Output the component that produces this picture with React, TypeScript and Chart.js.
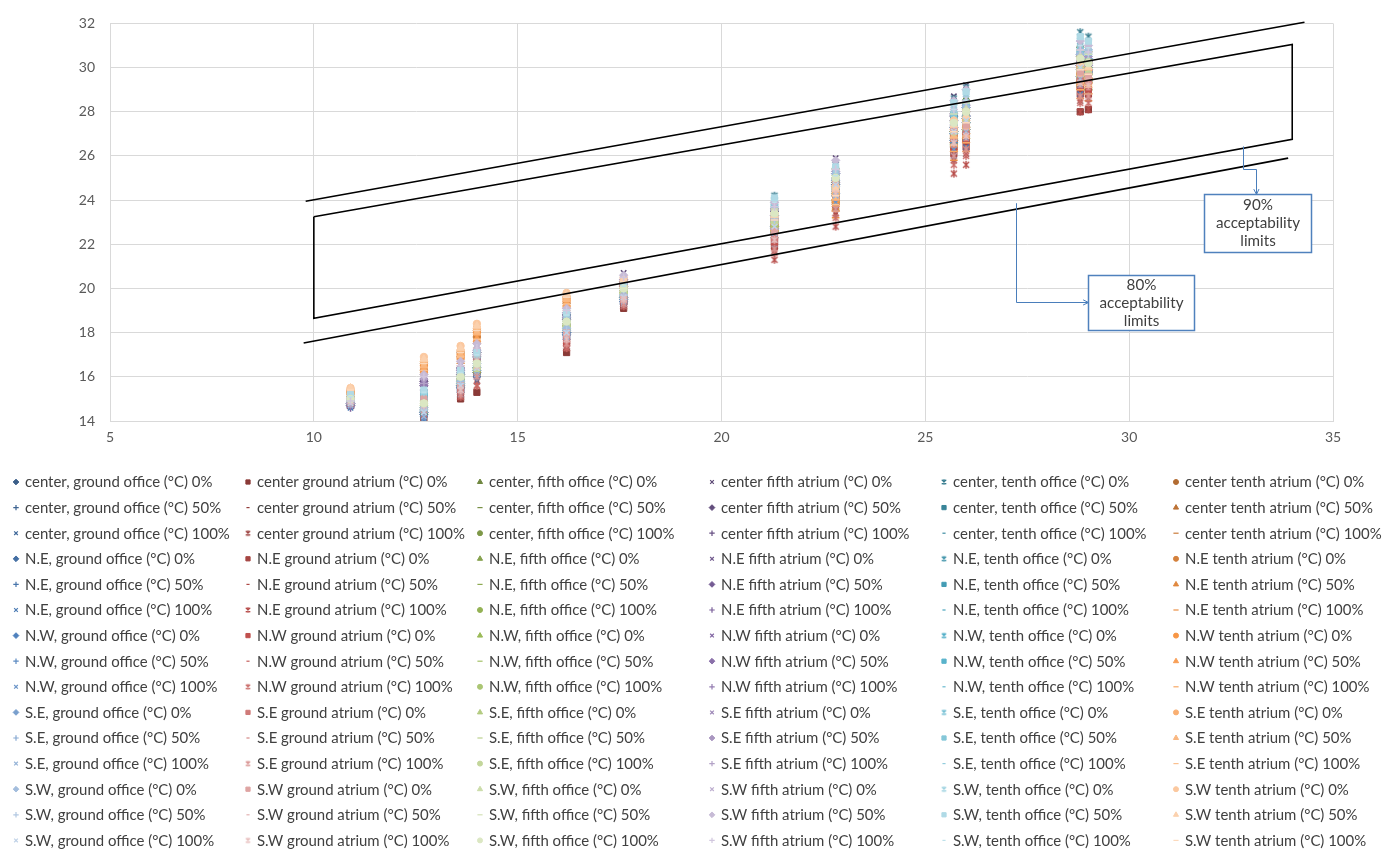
import React, { useEffect, useRef } from 'react';
import { Chart, registerables } from 'chart.js';
import { drawPoint } from 'chart.js/helpers';

Chart.register(...registerables);

// ---------------- data ----------------
const outdoorMeanTemp = [10.9, 12.7, 13.6, 14.0, 16.2, 17.6, 21.3, 22.8, 25.7, 26.0, 28.8, 29.0];
const orientations = ['center', 'N.E', 'N.W', 'S.E', 'S.W'];
const shadingLevels = ['0%', '50%', '100%'];
const spaceNames = ['ground office', 'ground atrium', 'fifth office', 'fifth atrium', 'tenth office', 'tenth atrium'];

// rows: center 0/50/100, N.E 0/50/100, N.W 0/50/100, S.E 0/50/100, S.W 0/50/100
const groundOffice = [
  [14.8, 14.4, 15.6, 16.4, 18.0, 19.6, 22.8, 24.7, 27.1, 27.7, 30.1, 30.2],
  [14.8, 14.3, 15.5, 16.2, 17.9, 19.5, 22.6, 24.4, 26.8, 27.3, 29.7, 29.9],
  [14.7, 14.2, 15.4, 16.0, 17.8, 19.4, 22.4, 24.1, 26.5, 26.9, 29.3, 29.5],
  [14.7, 14.3, 15.5, 16.2, 17.9, 19.4, 22.5, 24.3, 26.7, 27.2, 29.6, 29.8],
  [14.7, 14.2, 15.3, 16.0, 17.7, 19.3, 22.3, 24.0, 26.4, 26.9, 29.2, 29.4],
  [14.6, 14.0, 15.2, 15.8, 17.6, 19.2, 22.0, 23.6, 26.0, 26.4, 28.8, 28.9],
  [14.8, 14.4, 15.6, 16.3, 18.0, 19.5, 22.7, 24.6, 27.0, 27.5, 29.9, 30.0],
  [14.7, 14.2, 15.4, 16.1, 17.8, 19.4, 22.5, 24.2, 26.6, 27.1, 29.5, 29.7],
  [14.7, 14.1, 15.3, 16.0, 17.7, 19.3, 22.2, 23.9, 26.3, 26.8, 29.2, 29.3],
  [14.8, 14.5, 15.7, 16.4, 18.1, 19.6, 23.0, 24.9, 27.3, 27.8, 30.2, 30.4],
  [14.8, 14.4, 15.6, 16.3, 17.9, 19.5, 22.7, 24.5, 27.0, 27.5, 29.9, 30.1],
  [14.7, 14.2, 15.4, 16.1, 17.8, 19.4, 22.5, 24.2, 26.6, 27.1, 29.5, 29.7],
  [14.9, 14.6, 15.8, 16.6, 18.2, 19.7, 23.2, 25.2, 27.6, 28.2, 30.6, 30.8],
  [14.9, 14.5, 15.7, 16.5, 18.1, 19.7, 23.1, 25.0, 27.4, 28.0, 30.4, 30.6],
  [14.8, 14.4, 15.6, 16.4, 18.0, 19.6, 22.8, 24.7, 27.1, 27.6, 30.0, 30.2],
];

const groundAtrium = [
  [14.7, 14.1, 15.0, 15.3, 17.1, 19.1, 22.1, 24.1, 26.4, 26.7, 28.0, 28.1],
  [14.9, 14.6, 15.3, 16.2, 17.6, 19.4, 22.0, 23.9, 26.2, 26.5, 28.9, 28.9],
  [14.8, 14.4, 15.2, 15.8, 17.4, 19.3, 21.7, 23.4, 25.8, 26.1, 28.5, 28.6],
  [14.8, 14.5, 15.3, 16.1, 17.5, 19.4, 21.9, 23.8, 26.1, 26.4, 28.8, 28.8],
  [14.8, 14.3, 15.2, 15.8, 17.4, 19.2, 21.7, 23.4, 25.8, 26.2, 28.5, 28.5],
  [14.8, 14.3, 15.1, 15.6, 17.3, 19.2, 21.3, 22.8, 25.2, 25.6, 28.0, 28.1],
  [14.9, 14.6, 15.4, 16.3, 17.6, 19.4, 22.1, 24.1, 26.4, 26.7, 29.1, 29.0],
  [14.8, 14.5, 15.2, 16.0, 17.5, 19.3, 21.8, 23.6, 26.0, 26.3, 28.7, 28.7],
  [14.8, 14.3, 15.1, 15.6, 17.3, 19.2, 21.6, 23.2, 25.6, 26.0, 28.4, 28.4],
  [14.9, 14.8, 15.5, 16.7, 17.8, 19.5, 22.3, 24.5, 26.8, 27.0, 29.4, 29.3],
  [14.9, 14.6, 15.4, 16.4, 17.7, 19.4, 22.1, 24.0, 26.4, 26.7, 29.1, 29.0],
  [14.8, 14.5, 15.2, 16.0, 17.5, 19.3, 21.8, 23.6, 26.0, 26.3, 28.7, 28.7],
  [15.0, 15.0, 15.6, 17.0, 18.0, 19.6, 22.6, 24.9, 27.2, 27.4, 29.8, 29.6],
  [15.0, 14.9, 15.5, 16.8, 17.9, 19.6, 22.5, 24.7, 27.0, 27.2, 29.6, 29.5],
  [14.9, 14.7, 15.4, 16.5, 17.7, 19.5, 22.2, 24.3, 26.6, 26.9, 29.3, 29.2],
];

const fifthOffice = [
  [15.1, 15.0, 16.2, 16.8, 18.7, 20.1, 23.7, 25.5, 28.0, 28.6, 31.0, 30.8],
  [15.0, 14.7, 15.9, 16.5, 18.4, 19.9, 23.2, 24.8, 27.3, 27.7, 30.1, 29.9],
  [14.9, 14.6, 15.8, 16.4, 18.3, 19.8, 22.9, 24.5, 27.0, 27.3, 29.7, 29.5],
  [14.9, 14.7, 15.9, 16.5, 18.4, 19.8, 23.1, 24.7, 27.2, 27.6, 30.0, 29.8],
  [14.9, 14.6, 15.7, 16.4, 18.3, 19.7, 22.9, 24.4, 26.9, 27.3, 29.7, 29.5],
  [14.8, 14.4, 15.6, 16.2, 18.1, 19.6, 22.6, 24.0, 26.5, 26.8, 29.2, 29.0],
  [15.0, 14.8, 16.0, 16.6, 18.5, 19.9, 23.3, 24.9, 27.4, 27.9, 30.3, 30.1],
  [14.9, 14.6, 15.8, 16.4, 18.3, 19.8, 23.0, 24.6, 27.1, 27.5, 29.9, 29.7],
  [14.9, 14.5, 15.7, 16.3, 18.2, 19.7, 22.8, 24.3, 26.8, 27.2, 29.6, 29.4],
  [15.0, 14.9, 16.1, 16.7, 18.6, 20.0, 23.5, 25.2, 27.7, 28.2, 30.6, 30.4],
  [15.0, 14.8, 16.0, 16.6, 18.5, 19.9, 23.3, 24.9, 27.4, 27.8, 30.2, 30.0],
  [14.9, 14.6, 15.8, 16.4, 18.3, 19.8, 23.0, 24.6, 27.1, 27.5, 29.9, 29.7],
  [15.0, 14.8, 16.0, 16.6, 18.5, 20.0, 23.4, 25.1, 27.6, 28.1, 30.5, 30.3],
  [15.1, 14.9, 16.1, 16.7, 18.6, 20.1, 23.6, 25.4, 27.9, 28.4, 30.8, 30.6],
  [15.0, 14.8, 16.0, 16.6, 18.5, 20.0, 23.4, 25.0, 27.5, 28.0, 30.4, 30.2],
];

const fifthAtrium = [
  [15.0, 16.2, 16.8, 17.6, 19.2, 20.7, 24.0, 25.9, 28.7, 29.2, 31.4, 31.2],
  [14.8, 15.8, 16.4, 17.1, 18.8, 20.3, 23.5, 25.2, 27.8, 28.2, 30.5, 30.3],
  [14.7, 15.6, 16.2, 16.9, 18.6, 20.1, 23.2, 24.9, 27.4, 27.8, 30.1, 29.9],
  [14.8, 15.7, 16.3, 17.1, 18.8, 20.2, 23.4, 25.1, 27.7, 28.1, 30.4, 30.3],
  [14.7, 15.6, 16.1, 16.9, 18.6, 20.1, 23.2, 24.8, 27.3, 27.8, 30.1, 29.9],
  [14.6, 15.4, 15.9, 16.6, 18.4, 19.9, 22.9, 24.4, 26.8, 27.2, 29.6, 29.4],
  [14.8, 15.9, 16.4, 17.2, 18.9, 20.4, 23.6, 25.3, 27.9, 28.4, 30.7, 30.5],
  [14.8, 15.7, 16.3, 17.0, 18.7, 20.2, 23.3, 25.0, 27.6, 28.0, 30.3, 30.1],
  [14.7, 15.6, 16.1, 16.8, 18.6, 20.1, 23.1, 24.7, 27.2, 27.6, 30.0, 29.8],
  [14.9, 16.0, 16.6, 17.4, 19.0, 20.5, 23.8, 25.6, 28.3, 28.8, 31.0, 30.8],
  [14.8, 15.9, 16.4, 17.2, 18.9, 20.4, 23.6, 25.3, 27.9, 28.3, 30.6, 30.5],
  [14.8, 15.7, 16.3, 17.0, 18.7, 20.2, 23.3, 25.0, 27.6, 28.0, 30.3, 30.1],
  [14.9, 16.0, 16.5, 17.3, 19.0, 20.5, 23.7, 25.5, 28.1, 28.6, 30.9, 30.7],
  [15.0, 16.1, 16.7, 17.5, 19.1, 20.6, 23.9, 25.8, 28.5, 29.0, 31.2, 31.0],
  [14.9, 16.0, 16.5, 17.3, 19.0, 20.5, 23.7, 25.4, 28.1, 28.5, 30.8, 30.7],
];

const tenthOffice = [
  [15.2, 15.5, 16.3, 17.2, 19.0, 20.3, 24.2, 25.6, 28.6, 29.1, 31.6, 31.4],
  [15.1, 15.2, 16.1, 16.9, 18.7, 20.0, 23.8, 24.9, 27.8, 28.3, 30.7, 30.6],
  [15.0, 15.1, 16.0, 16.8, 18.6, 19.9, 23.6, 24.6, 27.5, 27.9, 30.3, 30.2],
  [15.0, 15.2, 16.1, 16.9, 18.7, 20.0, 23.7, 24.9, 27.7, 28.2, 30.6, 30.5],
  [15.0, 15.1, 15.9, 16.8, 18.5, 19.9, 23.6, 24.6, 27.4, 27.9, 30.3, 30.1],
  [14.9, 14.9, 15.8, 16.6, 18.4, 19.7, 23.3, 24.2, 27.0, 27.4, 29.8, 29.7],
  [15.1, 15.3, 16.1, 17.0, 18.8, 20.1, 23.8, 25.0, 28.0, 28.4, 30.9, 30.7],
  [15.0, 15.1, 16.0, 16.8, 18.6, 19.9, 23.7, 24.8, 27.6, 28.1, 30.5, 30.4],
  [15.0, 15.0, 15.9, 16.7, 18.5, 19.8, 23.5, 24.5, 27.3, 27.7, 30.2, 30.0],
  [15.1, 15.4, 16.2, 17.1, 18.9, 20.2, 24.0, 25.3, 28.3, 28.8, 31.2, 31.1],
  [15.1, 15.3, 16.1, 17.0, 18.8, 20.1, 23.8, 25.0, 27.9, 28.4, 30.8, 30.7],
  [15.0, 15.1, 16.0, 16.8, 18.6, 19.9, 23.7, 24.8, 27.6, 28.1, 30.5, 30.4],
  [15.1, 15.3, 16.2, 17.0, 18.8, 20.1, 23.9, 25.2, 28.1, 28.6, 31.1, 30.9],
  [15.2, 15.4, 16.3, 17.1, 18.9, 20.2, 24.1, 25.5, 28.4, 28.9, 31.4, 31.2],
  [15.1, 15.3, 16.2, 17.0, 18.8, 20.1, 23.9, 25.1, 28.1, 28.5, 31.0, 30.9],
];

const tenthAtrium = [
  [15.4, 16.6, 17.1, 18.1, 19.6, 20.3, 23.1, 24.2, 27.1, 27.5, 29.9, 29.7],
  [15.3, 16.4, 17.0, 17.9, 19.4, 20.2, 22.9, 23.9, 26.7, 27.1, 29.5, 29.4],
  [15.2, 16.2, 16.8, 17.6, 19.2, 20.0, 22.6, 23.6, 26.3, 26.7, 29.1, 29.0],
  [15.3, 16.3, 16.9, 17.8, 19.4, 20.1, 22.8, 23.9, 26.6, 27.0, 29.4, 29.3],
  [15.2, 16.2, 16.7, 17.6, 19.2, 20.0, 22.6, 23.6, 26.3, 26.7, 29.1, 28.9],
  [15.1, 15.9, 16.5, 17.3, 19.0, 19.8, 22.3, 23.2, 25.8, 26.2, 28.6, 28.5],
  [15.3, 16.5, 17.0, 18.0, 19.5, 20.2, 23.0, 24.0, 26.9, 27.3, 29.7, 29.5],
  [15.3, 16.3, 16.9, 17.7, 19.3, 20.1, 22.7, 23.8, 26.5, 26.9, 29.3, 29.2],
  [15.2, 16.1, 16.7, 17.5, 19.2, 19.9, 22.5, 23.5, 26.2, 26.6, 29.0, 28.8],
  [15.4, 16.7, 17.2, 18.2, 19.6, 20.4, 23.2, 24.3, 27.2, 27.6, 30.0, 29.9],
  [15.3, 16.5, 17.0, 18.0, 19.5, 20.2, 23.0, 24.1, 26.9, 27.3, 29.7, 29.6],
  [15.3, 16.3, 16.9, 17.7, 19.3, 20.1, 22.7, 23.8, 26.5, 26.9, 29.3, 29.2],
  [15.5, 16.9, 17.4, 18.4, 19.8, 20.5, 23.4, 24.6, 27.6, 28.0, 30.4, 30.2],
  [15.5, 16.8, 17.3, 18.3, 19.7, 20.4, 23.3, 24.5, 27.4, 27.8, 30.2, 30.0],
  [15.4, 16.6, 17.1, 18.1, 19.6, 20.3, 23.1, 24.2, 27.1, 27.5, 29.9, 29.7],
];

const spaceSeries = [groundOffice, groundAtrium, fifthOffice, fifthAtrium, tenthOffice, tenthAtrium];

// acceptability limit outlines (outdoor °C, operative °C)
const limit80Upper = [{ x: 9.8, y: 23.95 }, { x: 34.3, y: 32.05 }];
const limit80Lower = [{ x: 9.75, y: 17.53 }, { x: 33.9, y: 25.9 }];
const limit90Box = [
  { x: 10.0, y: 23.25 }, { x: 34.0, y: 31.05 }, { x: 34.0, y: 26.75 }, { x: 10.0, y: 18.65 }, { x: 10.0, y: 23.25 },
];

const xAxisRange = { min: 5, max: 35, step: 5 };
const yAxisRange = { min: 14, max: 32, step: 2 };

// ---------------- styling ----------------
const FONT = 'Lato, "Open Sans", sans-serif';
const accentColors = ['#4F81BD', '#C0504D', '#9BBB59', '#8064A2', '#4BACC6', '#F79646'];
const markerStyles = [
  { style: 'rectRot', r: 4.2, fill: true },
  { style: 'rect', r: 4.4, fill: true },
  { style: 'triangle', r: 4.4, fill: true },
  { style: 'crossRot', r: 3.8, fill: false },
  { style: 'asterisk', r: 4.0, fill: false },
  { style: 'circle', r: 3.7, fill: true },
  { style: 'cross', r: 4.0, fill: false },
  { style: 'line', r: 2.3, fill: false },
  { style: 'line', r: 3.8, fill: false },
];

function shadeColor(hex: string, row: number) {
  const t = row <= 6 ? -0.28 + row * (0.28 / 6) : (row - 6) * 0.08;
  const n = parseInt(hex.slice(1), 16);
  const ch = [(n >> 16) & 255, (n >> 8) & 255, n & 255].map((c) =>
    Math.round(t < 0 ? c * (1 + t) : c + (255 - c) * t)
  );
  return `rgb(${ch[0]},${ch[1]},${ch[2]})`;
}

// Excel-like asterisk marker: an x with a vertical bar
function asteriskImage(color: string, r: number, lw: number) {
  const size = Math.ceil(2 * r + lw + 2);
  const cv = document.createElement('canvas');
  cv.width = size;
  cv.height = size;
  const c = cv.getContext('2d')!;
  const m = size / 2;
  const d = r * 0.75;
  c.strokeStyle = color;
  c.lineWidth = lw;
  c.beginPath();
  c.moveTo(m - d, m - d); c.lineTo(m + d, m + d);
  c.moveTo(m + d, m - d); c.lineTo(m - d, m + d);
  c.moveTo(m, m - r); c.lineTo(m, m + r);
  c.stroke();
  return cv;
}

function makeLabel(orient: string, space: string, shade: string) {
  const sep = space.endsWith('office') ? ', ' : ' ';
  return `${orient}${sep}${space} (°C) ${shade}`;
}

type SeriesMeta = { label: string; color: string; style: string; r: number; fill: boolean; values: number[] };

const seriesList: SeriesMeta[] = [];
for (let o = 0; o < orientations.length; o++) {
  for (let s = 0; s < shadingLevels.length; s++) {
    const row = o * 3 + s;
    for (let c = 0; c < spaceNames.length; c++) {
      const i = row * 6 + c;
      const m = markerStyles[i % 9];
      seriesList.push({
        label: makeLabel(orientations[o], spaceNames[c], shadingLevels[s]),
        color: shadeColor(accentColors[c], row),
        style: m.style,
        r: m.r,
        fill: m.fill,
        values: spaceSeries[c][row],
      });
    }
  }
}

// legend layout
const LEGEND_X0 = 25;
const LEGEND_COL_W = 232;
const LEGEND_Y0 = 482;
const LEGEND_ROW_H = 25.6;
const LEGEND_REF_TEXT = 'center, ground office (°C) 100%';
const LEGEND_REF_WIDTH = 205;

// callouts (data coordinates)
const callouts = [
  {
    lines: ['90%', 'acceptability', 'limits'],
    box: [31.84, 24.26, 34.46, 21.65],
    path: [[32.79, 26.43], [32.79, 25.41], [33.11, 25.41], [33.11, 24.26]],
  },
  {
    lines: ['80%', 'acceptability', 'limits'],
    box: [28.99, 20.59, 31.59, 18.11],
    path: [[27.22, 23.86], [27.22, 19.4], [28.99, 19.4]],
  },
];

function fitFont(ctx: CanvasRenderingContext2D, text: string, width: number) {
  ctx.font = `14px ${FONT}`;
  const w = ctx.measureText(text).width;
  return (14 * width) / w;
}

const legendPlugin = {
  id: 'gridLegend',
  afterDraw(chart: any) {
    const ctx = chart.ctx as CanvasRenderingContext2D;
    ctx.save();
    const size = fitFont(ctx, LEGEND_REF_TEXT, LEGEND_REF_WIDTH);
    ctx.textBaseline = 'middle';
    ctx.textAlign = 'left';
    seriesList.forEach((s, i) => {
      const row = Math.floor(i / 6);
      const col = i % 6;
      const tx = LEGEND_X0 + col * LEGEND_COL_W;
      const ty = LEGEND_Y0 + row * LEGEND_ROW_H;
      ctx.fillStyle = s.color;
      ctx.strokeStyle = s.color;
      const lw = s.fill ? 1 : 1.2;
      ctx.lineWidth = lw;
      const style: any = s.style === 'asterisk' ? asteriskImage(s.color, 3, 1.1) : s.style;
      drawPoint(ctx, { pointStyle: style, radius: s.r * 0.68, rotation: 0, borderWidth: lw } as any, tx - 9, ty);
      ctx.fillStyle = '#404040';
      ctx.font = `${size}px ${FONT}`;
      ctx.fillText(s.label, tx, ty + 0.5);
    });
    ctx.restore();
  },
};

const calloutPlugin = {
  id: 'callouts',
  afterDraw(chart: any) {
    const ctx = chart.ctx as CanvasRenderingContext2D;
    const xs = chart.scales.x;
    const ys = chart.scales.y;
    const px = (v: number) => xs.getPixelForValue(v);
    const py = (v: number) => ys.getPixelForValue(v);
    ctx.save();
    const textSize = fitFont(ctx, 'acceptability', 84);
    callouts.forEach((c) => {
      ctx.strokeStyle = '#4A7EBB';
      ctx.lineWidth = 1;
      ctx.beginPath();
      c.path.forEach(([x, y], k) => {
        if (k === 0) ctx.moveTo(Math.round(px(x)) + 0.5, py(y));
        else ctx.lineTo(Math.round(px(x)) + 0.5, Math.round(py(y)) + 0.5);
      });
      ctx.stroke();
      const n = c.path.length;
      const [ex, ey] = c.path[n - 1];
      const [sx, sy] = c.path[n - 2];
      const x2 = Math.round(px(ex)) + 0.5, y2 = Math.round(py(ey)) + 0.5, x1 = px(sx), y1 = py(sy);
      const ang = Math.atan2(y2 - y1, x2 - x1);
      const L = 6;
      ctx.beginPath();
      ctx.moveTo(x2 - L * Math.cos(ang - 0.45), y2 - L * Math.sin(ang - 0.45));
      ctx.lineTo(x2, y2);
      ctx.lineTo(x2 - L * Math.cos(ang + 0.45), y2 - L * Math.sin(ang + 0.45));
      ctx.stroke();

      const bx0 = Math.round(px(c.box[0])) + 0.5;
      const by0 = Math.round(py(c.box[1])) + 0.5;
      const bx1 = Math.round(px(c.box[2])) + 0.5;
      const by1 = Math.round(py(c.box[3])) + 0.5;
      ctx.fillStyle = '#ffffff';
      ctx.fillRect(bx0, by0, bx1 - bx0, by1 - by0);
      ctx.strokeStyle = '#4F81BD';
      ctx.lineWidth = 1.5;
      ctx.strokeRect(bx0, by0, bx1 - bx0, by1 - by0);
      ctx.fillStyle = '#404040';
      ctx.font = `${textSize}px ${FONT}`;
      ctx.textAlign = 'center';
      ctx.textBaseline = 'middle';
      const cx = (bx0 + bx1) / 2;
      const cy = (by0 + by1) / 2;
      c.lines.forEach((t, k) => ctx.fillText(t, cx, cy + (k - 1) * 18));
    });
    ctx.restore();
  },
};

export default function App() {
  const canvasRef = useRef<HTMLCanvasElement | null>(null);

  useEffect(() => {
    if (!canvasRef.current) return;
    const N = seriesList.length;
    const datasets: any[] = seriesList.map((s, i) => ({
      label: s.label,
      data: outdoorMeanTemp.map((x, k) => ({ x, y: s.values[k] })),
      pointStyle: s.style === 'asterisk' ? asteriskImage(s.color, s.r, 1.4) : s.style,
      pointRadius: s.r,
      pointBackgroundColor: s.color,
      pointBorderColor: s.color,
      pointBorderWidth: s.fill ? 1 : 1.5,
      backgroundColor: s.color,
      borderColor: s.color,
      showLine: false,
      order: N - i + 10,
    }));
    const lineStyle = {
      showLine: true,
      borderColor: '#000000',
      borderWidth: 1.6,
      pointRadius: 0,
      pointHoverRadius: 0,
      fill: false,
      tension: 0,
      clip: 8,
      order: 0,
    };
    datasets.push({ label: '80% upper', data: limit80Upper, ...lineStyle });
    datasets.push({ label: '80% lower', data: limit80Lower, ...lineStyle });
    datasets.push({ label: '90% limits', data: limit90Box, ...lineStyle });

    const chart = new Chart(canvasRef.current, {
      type: 'scatter',
      data: { datasets },
      options: {
        animation: false,
        responsive: true,
        maintainAspectRatio: false,
        layout: { padding: { left: 0, top: 14, right: 51, bottom: 399 } },
        plugins: { legend: { display: false }, tooltip: { enabled: false } },
        events: [],
        scales: {
          x: {
            type: 'linear',
            min: xAxisRange.min,
            max: xAxisRange.max,
            afterFit: (scale: any) => { scale.height = 30; },
            ticks: { stepSize: xAxisRange.step, color: '#595959', font: { family: FONT, size: 14 }, padding: 8 },
            grid: { color: '#d9d9d9', drawTicks: false, lineWidth: 1 },
            border: { color: '#d9d9d9' },
          },
          y: {
            type: 'linear',
            min: yAxisRange.min,
            max: yAxisRange.max,
            afterFit: (scale: any) => { scale.width = 110; },
            ticks: { stepSize: yAxisRange.step, color: '#595959', font: { family: FONT, size: 14 }, padding: 15 },
            grid: { color: '#d9d9d9', drawTicks: false, lineWidth: 1 },
            border: { color: '#d9d9d9' },
          },
        },
      },
      plugins: [calloutPlugin, legendPlugin],
    });
    return () => chart.destroy();
  }, []);

  return (
    <div style={{ position: 'fixed', left: 0, top: 0, width: 1384, height: 850, background: '#ffffff' }}>
      <canvas ref={canvasRef} />
    </div>
  );
}
